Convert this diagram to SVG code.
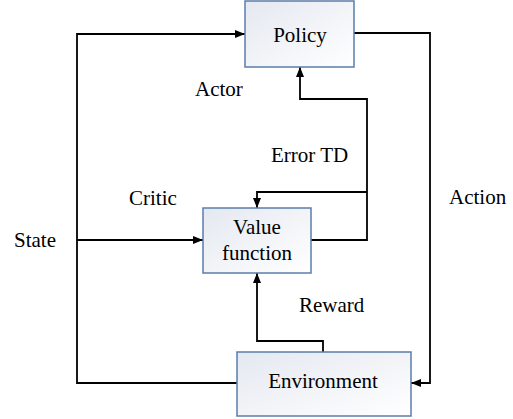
<svg xmlns="http://www.w3.org/2000/svg" width="513" height="419" viewBox="0 0 513 419">
<defs>
<linearGradient id="g" x1="0" y1="0" x2="1" y2="1">
<stop offset="0" stop-color="#e4e8f0"/>
<stop offset="1" stop-color="#ffffff"/>
</linearGradient>
<marker id="ah" viewBox="0 0 10 10" refX="10" refY="5" markerWidth="10" markerHeight="10" markerUnits="userSpaceOnUse" orient="auto">
<path d="M0,1 L10,5 L0,9 Z" fill="#000"/>
</marker>
<style>
.box{fill:url(#g);stroke:#5a7ea8;stroke-width:1.5}
.c{fill:none;stroke:#000;stroke-width:1.8}
</style>
</defs>
<rect width="513" height="419" fill="#fff"/>
<g id="connectors">
<path class="c" d="M237,383 H77 V34 H245" marker-end="url(#ah)"/>
<path class="c" d="M77,240 H203" marker-end="url(#ah)"/>
<path class="c" d="M354,33 H430 V383 H411" marker-end="url(#ah)"/>
<path class="c" d="M311,240 H367 V99 H300 V67" marker-end="url(#ah)"/>
<path class="c" d="M367,192 H257 V208" marker-end="url(#ah)"/>
<path class="c" d="M323,352 V341 H257 V273" marker-end="url(#ah)"/>
</g>
<g id="policy">
<rect class="box" x="245" y="1" width="109" height="66"/>
<text x="300" y="42" text-anchor="middle" font-family="Liberation Serif, serif" font-size="21">Policy</text>
</g>
<g id="value">
<rect class="box" x="203" y="208" width="108" height="65"/>
<text x="257" y="234" text-anchor="middle" font-family="Liberation Serif, serif" font-size="21">Value</text>
<text x="257" y="260" text-anchor="middle" font-family="Liberation Serif, serif" font-size="21">function</text>
</g>
<g id="environment">
<rect class="box" x="237" y="352" width="174" height="64"/>
<text x="323" y="388" text-anchor="middle" font-family="Liberation Serif, serif" font-size="21">Environment</text>
</g>
<g id="labels" font-family="Liberation Serif, serif" font-size="21">
<text x="195" y="96">Actor</text>
<text x="271" y="162">Error TD</text>
<text x="129" y="205">Critic</text>
<text x="14" y="247">State</text>
<text x="299" y="312">Reward</text>
<text x="449" y="204">Action</text>
</g>
</svg>
